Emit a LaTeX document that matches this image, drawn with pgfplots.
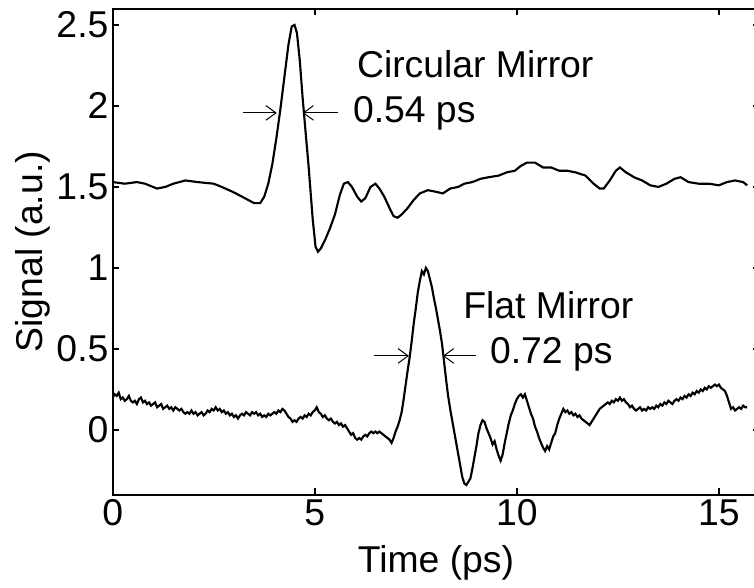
\documentclass[border=0pt]{standalone}
\usepackage{fontspec}
\setmainfont{Liberation Sans}
\usepackage{pgfplots}
\pgfplotsset{compat=1.18}
\usetikzlibrary{arrows.meta}
\newcommand{\fs}{\fontsize{28}{34}\selectfont}
\begin{document}
\begin{tikzpicture}
\begin{axis}[
  name=ax,
  scale only axis,
  width=485pt, height=364.5pt,
  xmin=0, xmax=16, ymin=-0.4, ymax=2.6,
  xtick={0,5,10,15},
  ytick={0,0.5,1,1.5,2,2.5},
  yticklabels={0,0.5,1,1.5,2,2.5},
  tick align=inside,
  major tick length=5pt,
  axis line style={line width=1.5pt},
  every tick/.style={line width=1.2pt, black},
  /pgf/number format/assume math mode=true,
  tick label style={font=\fs},
  yticklabel style={inner xsep=3pt},
  label style={font=\fs},
  xlabel={Time (ps)},
  ylabel={Signal (a.u.)},
  xlabel style={yshift=-8pt},
  ylabel style={yshift=-2pt},
  clip=true,
]
\addplot[black, line width=1.6pt] coordinates {
(0.00,1.53) (0.30,1.52) (0.60,1.53) (0.80,1.52) (1.00,1.50) (1.10,1.49) (1.30,1.50) (1.50,1.52) (1.80,1.54) (2.10,1.53) (2.50,1.52) (2.70,1.50) (2.97,1.47) (3.20,1.44) (3.50,1.40) (3.65,1.40) (3.75,1.44) (3.85,1.52) (3.95,1.64) (4.05,1.80) (4.15,1.98) (4.25,2.18) (4.35,2.38) (4.43,2.49) (4.50,2.50) (4.56,2.45) (4.63,2.28) (4.70,2.05) (4.78,1.82) (4.85,1.62) (4.95,1.30) (5.02,1.13) (5.08,1.10) (5.15,1.12) (5.25,1.17) (5.37,1.24) (5.50,1.33) (5.62,1.45) (5.72,1.52) (5.82,1.53) (5.92,1.50) (6.05,1.44) (6.15,1.41) (6.25,1.43) (6.38,1.50) (6.50,1.52) (6.60,1.49) (6.72,1.44) (6.85,1.37) (6.95,1.32) (7.05,1.31) (7.15,1.33) (7.30,1.37) (7.45,1.42) (7.60,1.46) (7.80,1.48) (8.00,1.47) (8.17,1.46) (8.35,1.49) (8.55,1.50) (8.70,1.52) (8.90,1.53) (9.10,1.55) (9.30,1.56) (9.55,1.57) (9.75,1.59) (9.95,1.60) (10.10,1.63) (10.25,1.65) (10.45,1.65) (10.65,1.62) (10.85,1.62) (11.05,1.60) (11.25,1.60) (11.45,1.59) (11.70,1.57) (11.90,1.52) (12.05,1.49) (12.15,1.49) (12.30,1.54) (12.45,1.60) (12.55,1.62) (12.70,1.59) (12.90,1.56) (13.10,1.54) (13.30,1.51) (13.50,1.50) (13.70,1.52) (13.90,1.55) (14.05,1.56) (14.25,1.53) (14.50,1.52) (14.75,1.52) (15.00,1.51) (15.20,1.53) (15.40,1.54) (15.60,1.53) (15.70,1.51)
};
\addplot[black, line width=1.6pt] table {
x y
0.00 0.20
0.05 0.22
0.10 0.21
0.15 0.23
0.20 0.19
0.25 0.20
0.30 0.18
0.35 0.19
0.40 0.21
0.45 0.18
0.50 0.17
0.55 0.18
0.60 0.16
0.65 0.19
0.70 0.20
0.75 0.17
0.80 0.18
0.85 0.16
0.90 0.17
0.95 0.15
1.00 0.16
1.05 0.17
1.10 0.14
1.15 0.15
1.20 0.16
1.25 0.13
1.30 0.14
1.35 0.15
1.40 0.13
1.45 0.14
1.50 0.12
1.55 0.14
1.60 0.13
1.65 0.12
1.70 0.13
1.75 0.11
1.80 0.10
1.85 0.11
1.90 0.10
1.95 0.12
2.00 0.10
2.05 0.11
2.10 0.09
2.15 0.10
2.20 0.11
2.25 0.09
2.30 0.10
2.35 0.12
2.40 0.11
2.45 0.13
2.50 0.12
2.55 0.14
2.60 0.12
2.65 0.13
2.70 0.11
2.75 0.12
2.80 0.10
2.85 0.11
2.90 0.09
2.95 0.10
3.00 0.08
3.05 0.09
3.10 0.07
3.15 0.09
3.20 0.10
3.25 0.09
3.30 0.11
3.35 0.10
3.40 0.09
3.45 0.11
3.50 0.10
3.55 0.11
3.60 0.09
3.65 0.10
3.70 0.08
3.75 0.09
3.80 0.08
3.85 0.10
3.90 0.09
3.95 0.10
4.00 0.11
4.05 0.10
4.10 0.12
4.15 0.11
4.20 0.13
4.25 0.12
4.30 0.10
4.35 0.08
4.40 0.07
4.45 0.05
4.50 0.06
4.55 0.05
4.60 0.07
4.65 0.08
4.70 0.07
4.75 0.09
4.80 0.08
4.85 0.10
4.90 0.09
4.95 0.11
5.00 0.12
5.05 0.14
5.10 0.11
5.15 0.10
5.20 0.08
5.25 0.09
5.30 0.07
5.35 0.06
5.40 0.07
5.45 0.05
5.50 0.04
5.55 0.05
5.60 0.03
5.65 0.04
5.70 0.02
5.75 0.03
5.80 0.01
5.85 -0.01
5.90 -0.03
5.95 -0.02
6.00 -0.05
6.05 -0.06
6.10 -0.05
6.15 -0.06
6.20 -0.04
6.25 -0.03
6.30 -0.04
6.35 -0.02
6.40 -0.01
6.45 -0.02
6.50 -0.01
6.55 -0.02
6.60 -0.01
6.65 -0.02
6.70 -0.03
6.75 -0.04
6.80 -0.05
6.85 -0.06
6.90 -0.08
6.95 -0.05
7.00 -0.01
7.05 0.02
7.10 0.06
7.15 0.11
7.20 0.19
7.25 0.28
7.30 0.37
7.35 0.45
7.40 0.55
7.45 0.66
7.50 0.75
7.55 0.85
7.60 0.92
7.65 0.98
7.70 0.96
7.75 1.00
7.80 0.98
7.85 0.93
7.90 0.88
7.95 0.81
8.00 0.75
8.05 0.68
8.10 0.61
8.15 0.53
8.20 0.42
8.25 0.31
8.30 0.21
8.35 0.13
8.40 0.06
8.45 -0.01
8.50 -0.08
8.55 -0.15
8.60 -0.22
8.65 -0.29
8.70 -0.33
8.75 -0.34
8.80 -0.32
8.85 -0.30
8.90 -0.24
8.95 -0.17
9.00 -0.10
9.05 -0.02
9.10 0.03
9.15 0.06
9.20 0.05
9.25 0.01
9.30 -0.02
9.35 -0.05
9.40 -0.09
9.45 -0.07
9.50 -0.12
9.55 -0.16
9.60 -0.19
9.65 -0.15
9.70 -0.08
9.75 -0.02
9.80 0.04
9.85 0.09
9.90 0.12
9.95 0.16
10.00 0.19
10.05 0.21
10.10 0.22
10.15 0.20
10.20 0.22
10.25 0.18
10.30 0.14
10.35 0.10
10.40 0.07
10.45 0.02
10.50 -0.01
10.55 -0.05
10.60 -0.08
10.65 -0.11
10.70 -0.13
10.75 -0.10
10.80 -0.12
10.85 -0.08
10.90 -0.04
10.95 -0.02
11.00 0.03
11.05 0.07
11.10 0.10
11.15 0.13
11.20 0.11
11.25 0.12
11.30 0.10
11.35 0.11
11.40 0.09
11.45 0.10
11.50 0.08
11.55 0.09
11.60 0.07
11.65 0.06
11.70 0.05
11.75 0.04
11.80 0.03
11.85 0.05
11.90 0.07
11.95 0.09
12.00 0.11
12.05 0.13
12.10 0.14
12.15 0.15
12.20 0.16
12.25 0.17
12.30 0.16
12.35 0.18
12.40 0.17
12.45 0.19
12.50 0.18
12.55 0.20
12.60 0.18
12.65 0.19
12.70 0.17
12.75 0.16
12.80 0.14
12.85 0.15
12.90 0.13
12.95 0.12
13.00 0.13
13.05 0.14
13.10 0.12
13.15 0.13
13.20 0.12
13.25 0.14
13.30 0.13
13.35 0.14
13.40 0.13
13.45 0.15
13.50 0.14
13.55 0.16
13.60 0.15
13.65 0.17
13.70 0.16
13.75 0.18
13.80 0.17
13.85 0.16
13.90 0.18
13.95 0.19
14.00 0.18
14.05 0.20
14.10 0.19
14.15 0.21
14.20 0.20
14.25 0.22
14.30 0.21
14.35 0.23
14.40 0.22
14.45 0.24
14.50 0.23
14.55 0.25
14.60 0.24
14.65 0.26
14.70 0.25
14.75 0.27
14.80 0.26
14.85 0.27
14.90 0.28
14.95 0.27
15.00 0.28
15.05 0.26
15.10 0.25
15.15 0.24
15.20 0.21
15.25 0.17
15.30 0.13
15.35 0.14
15.40 0.12
15.45 0.13
15.50 0.14
15.55 0.13
15.60 0.15
15.65 0.14
15.70 0.14
};
% FWHM arrows
\draw[line width=0.75pt, -{Straight Barb[length=7.5pt, width=11pt]}] (axis cs:3.22,1.957) -- (axis cs:4.06,1.957);
\draw[line width=0.75pt, -{Straight Barb[length=7.5pt, width=11pt]}] (axis cs:5.57,1.957) -- (axis cs:4.70,1.957);
\draw[line width=0.75pt, -{Straight Barb[length=7.5pt, width=11pt]}] (axis cs:6.46,0.457) -- (axis cs:7.33,0.457);
\draw[line width=0.75pt, -{Straight Barb[length=7.5pt, width=11pt]}] (axis cs:8.99,0.457) -- (axis cs:8.17,0.457);
\node[anchor=base west, inner sep=0pt, font=\fs] at (axis cs:6.04,2.175) {Circular Mirror};
\node[anchor=base west, inner sep=0pt, font=\fs] at (axis cs:5.94,1.90) {0.54 ps};
\node[anchor=base west, inner sep=0pt, font=\fs] at (axis cs:8.67,0.685) {Flat Mirror};
\node[anchor=base west, inner sep=0pt, font=\fs] at (axis cs:9.33,0.41) {0.72 ps};
\end{axis}
\pgfresetboundingbox
\useasboundingbox ([xshift=-84.5pt,yshift=-69.2pt]ax.south west) rectangle ([xshift=481pt,yshift=371.05pt]ax.south west);
\end{tikzpicture}
\end{document}
